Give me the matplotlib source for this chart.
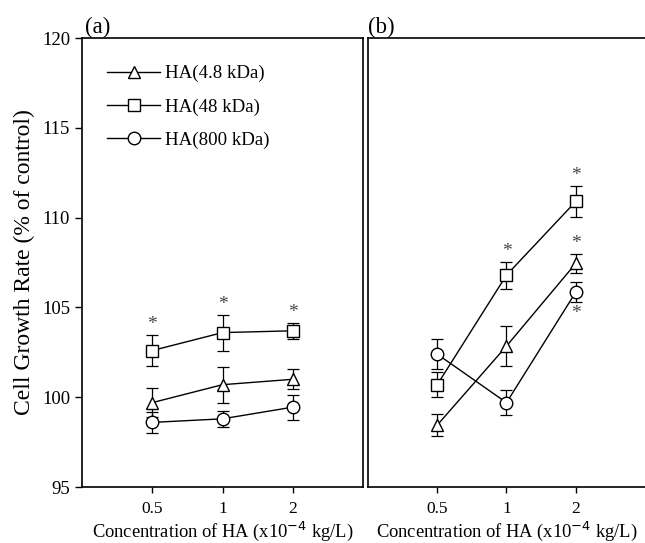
import numpy as np
import matplotlib
matplotlib.use("Agg")
import matplotlib.pyplot as plt

plt.rcParams['font.family'] = ['Liberation Serif', 'DejaVu Serif']

conc = ['0.5', '1', '2']
labels = ['HA(4.8 kDa)', 'HA(48 kDa)', 'HA(800 kDa)']
markers = ['^', 's', 'o']

# panel (a)
a_mean = [[99.7, 100.7, 101.0],
          [102.6, 103.6, 103.7],
          [98.6, 98.8, 99.45]]
a_err = [[0.8, 1.0, 0.55],
         [0.85, 1.0, 0.45],
         [0.6, 0.45, 0.7]]
a_star = [[False, False, False],
          [True, True, True],
          [False, False, False]]

# panel (b)
b_mean = [[98.45, 102.85, 107.45],
          [100.7, 106.8, 110.9],
          [102.4, 99.7, 105.85]]
b_err = [[0.6, 1.1, 0.55],
         [0.7, 0.75, 0.85],
         [0.85, 0.7, 0.55]]
# +1 star above, -1 star below, 0 none
b_star = [[0, 0, 1],
          [0, 1, 1],
          [0, 0, -1]]

fig = plt.figure(figsize=(6.45, 5.43), dpi=100)
axa = fig.add_axes([0.127, 0.103, 0.436, 0.827])
axb = fig.add_axes([0.5705, 0.103, 0.4295, 0.827])

x = np.arange(1, len(conc) + 1)


def draw(ax, means, errs):
    hs = []
    for m, e, mk, lab in zip(means, errs, markers, labels):
        ax.errorbar(x, m, yerr=e, fmt='none', ecolor='black', elinewidth=0.9,
                    capsize=4, capthick=0.9, zorder=2)
        h, = ax.plot(x, m, color='black', lw=1.0, marker=mk, ms=9 if mk != '^' else 8,
                     mfc='white', mec='black', mew=1.0, label=lab, zorder=3)
        hs.append(h)
    return hs


def star(ax, xv, yv, up):
    ax.annotate('*', (xv, yv), xytext=(0, 7.5 if up else -8.5),
                textcoords='offset points', ha='center', va='center',
                fontsize=14, color='#444444')


hs = draw(axa, a_mean, a_err)
draw(axb, b_mean, b_err)

for i in range(3):
    for j in range(3):
        if a_star[i][j]:
            star(axa, x[j], a_mean[i][j] + a_err[i][j], True)
        if b_star[i][j] == 1:
            star(axb, x[j], b_mean[i][j] + b_err[i][j], True)
        elif b_star[i][j] == -1:
            star(axb, x[j], b_mean[i][j] - b_err[i][j], False)

for ax in (axa, axb):
    ax.set_xlim(0, 4)
    ax.set_ylim(95, 120)
    ax.set_xticks(x)
    ax.set_xticklabels(conc, fontsize=12.5)
    ax.tick_params(axis='x', direction='out', length=4, width=1.0, pad=6)
    ax.set_xlabel('Concentration of HA (x10$^{-4}$ kg/L)', fontsize=13.3, labelpad=2)
    for s in ax.spines.values():
        s.set_linewidth(1.2)

axa.set_yticks([95, 100, 105, 110, 115, 120])
axa.tick_params(axis='y', direction='out', length=5, width=1.0, labelsize=13.5)
axa.set_ylabel('Cell Growth Rate (% of control)', fontsize=17, labelpad=5)
axb.set_yticks([])
axb.spines['right'].set_visible(False)

axa.legend(handles=hs, loc='upper left', bbox_to_anchor=(0.03, 0.978), frameon=False,
           fontsize=13.6, handlelength=2.8, labelspacing=0.85, handletextpad=0.25)

axa.text(0.01, 1.0, '(a)', transform=axa.transAxes, fontsize=16.5, ha='left', va='bottom')
axb.text(0.0, 1.0, '(b)', transform=axb.transAxes, fontsize=16.5, ha='left', va='bottom')

fig.savefig('out.png', dpi=100)
